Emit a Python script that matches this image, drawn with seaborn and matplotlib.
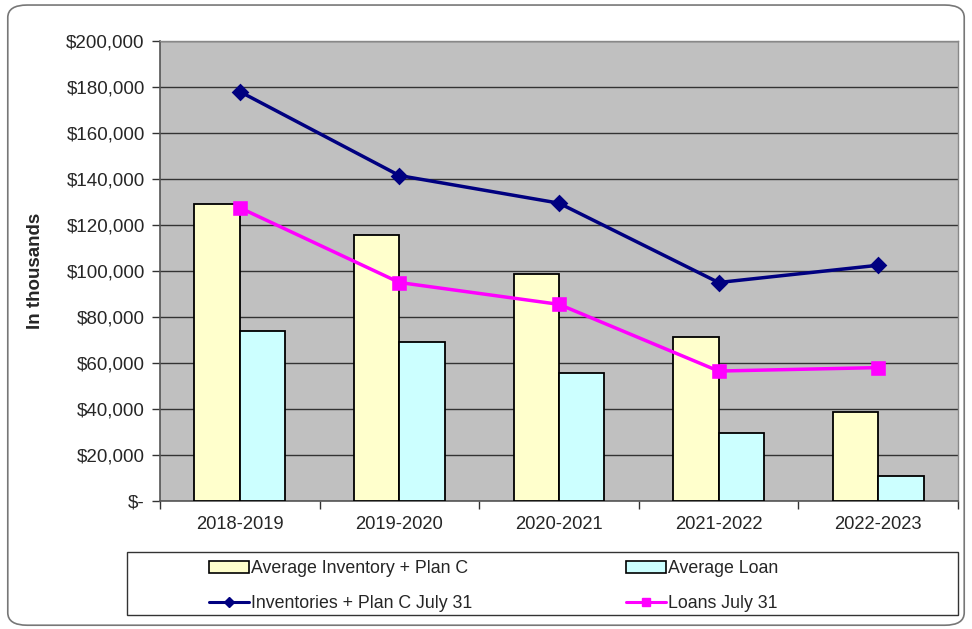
import pandas as pd
import numpy as np
import matplotlib
matplotlib.use('Agg')
import matplotlib.pyplot as plt
import seaborn as sns
from matplotlib.ticker import FuncFormatter
from matplotlib.patches import Patch, FancyBboxPatch, Rectangle
from matplotlib.lines import Line2D

# values in thousands
periods = ['2018-2019', '2019-2020', '2020-2021', '2021-2022', '2022-2023']
avg_inventory = [129000, 115500, 98500, 71500, 38500]
avg_loan = [74000, 69000, 55500, 29500, 11000]
inventories_jul31 = [178000, 141500, 129500, 95000, 102500]
loans_jul31 = [127500, 95000, 85500, 56500, 58000]

bar_names = ['Average Inventory + Plan C', 'Average Loan']
line_names = ['Inventories + Plan C July 31', 'Loans July 31']
bar_colors = ['#FFFFCC', '#CCFFFF']
line_colors = ['#000080', '#FF00FF']

bars = pd.DataFrame({
    'Period': periods * 2,
    'Value': avg_inventory + avg_loan,
    'Series': [bar_names[0]] * 5 + [bar_names[1]] * 5,
})

sns.set_style('white')
plt.rcParams['font.family'] = ['Liberation Sans', 'DejaVu Sans']

fig = plt.figure(figsize=(9.72, 6.29), dpi=100)
ax = fig.add_axes([0.1646, 0.2035, 0.8210, 0.7313])
ax.set_facecolor('#C0C0C0')

sns.barplot(data=bars, x='Period', y='Value', hue='Series', order=periods,
            palette=bar_colors, width=0.57, gap=0, edgecolor='black',
            linewidth=1.3, saturation=1, legend=False, ax=ax, zorder=3)

sns.pointplot(x=periods, y=inventories_jul31, color=line_colors[0], markers='D',
              linestyles='-', markersize=7, linewidth=2.5, errorbar=None, ax=ax)
sns.pointplot(x=periods, y=loans_jul31, color=line_colors[1], markers='s',
              linestyles='-', markersize=9, linewidth=2.5, errorbar=None, ax=ax)
for coll in ax.collections + ax.lines:
    coll.set_zorder(4)

ax.set_xlim(-0.5, 4.5)
ax.set_ylim(0, 200000)
ax.set_yticks(np.arange(0, 200001, 20000))
ax.yaxis.set_major_formatter(FuncFormatter(lambda v, p: '$-' if v == 0 else f'${v:,.0f}'))
ax.yaxis.grid(True, color='#333333', linewidth=1.0, zorder=0)
ax.set_axisbelow(True)

# category ticks between groups like the original
ax.set_xticks(np.arange(-0.5, 5, 1), minor=True)
ax.tick_params(axis='x', which='major', length=0, pad=11, labelsize=13.2)
ax.tick_params(axis='x', which='minor', length=6, width=1, color='#333333', direction='out')
ax.tick_params(axis='y', length=6, width=1, color='#333333', direction='out', labelsize=13.5, pad=5)
ax.tick_params(bottom=True, left=True, which='both')

for side in ['left', 'bottom']:
    ax.spines[side].set_color('#555555')
    ax.spines[side].set_linewidth(1.2)
for side in ['top', 'right']:
    ax.spines[side].set_color('#888888')
    ax.spines[side].set_linewidth(1.0)

ax.set_xlabel('')
ax.set_ylabel('In thousands', fontsize=13.5, fontweight='bold', labelpad=16)

# legend: frame drawn separately, two single-column legends inside it
fig.patches.append(Rectangle((0.1307, 0.0223), 0.855, 0.100, transform=fig.transFigure,
                             facecolor='white', edgecolor='#333333', linewidth=1.0, zorder=1))
left_handles = [
    Patch(facecolor=bar_colors[0], edgecolor='black', linewidth=1.2, label=bar_names[0]),
    Line2D([], [], color=line_colors[0], marker='D', markersize=5, linewidth=2.2, label=line_names[0]),
]
right_handles = [
    Patch(facecolor=bar_colors[1], edgecolor='black', linewidth=1.2, label=bar_names[1]),
    Line2D([], [], color=line_colors[1], marker='s', markersize=6, linewidth=2.2, label=line_names[1]),
]
for hs, x0 in [(left_handles, 209 / 972), (right_handles, 626 / 972)]:
    fig.legend(handles=hs, loc='upper left', bbox_to_anchor=(x0, 1 - 560 / 629),
               frameon=False, fontsize=12.8, handlelength=2.25, handletextpad=0.1,
               labelspacing=1.0, borderpad=0, borderaxespad=0)

# rounded outer border
fig.patches.append(FancyBboxPatch((0.008, 0.006), 0.984, 0.986,
                                  boxstyle='round,pad=0,rounding_size=0.02',
                                  transform=fig.transFigure, facecolor='none',
                                  edgecolor='#777777', linewidth=1.2))

fig.savefig('out.png', dpi=100, facecolor='white')
